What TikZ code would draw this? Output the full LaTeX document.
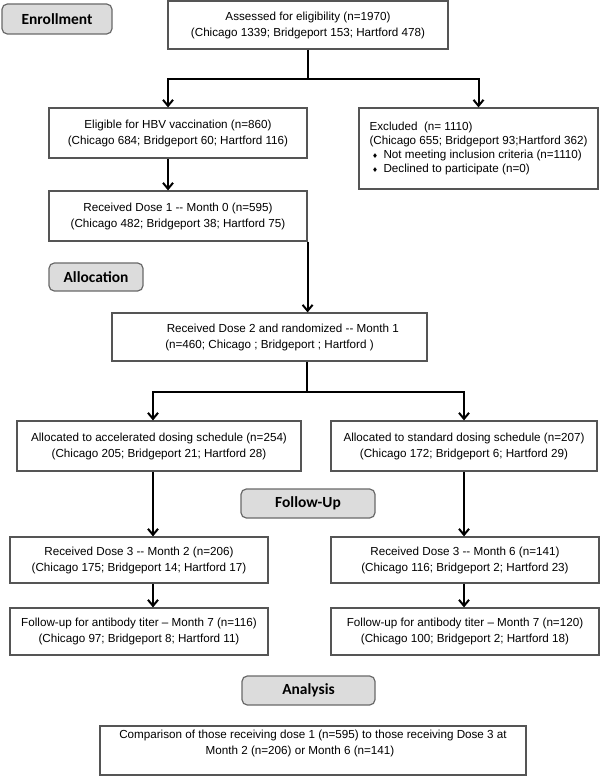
\documentclass[tikz,border=0pt]{standalone}
\usepackage{fontspec}
\setmainfont{Liberation Sans}[Ligatures=TeXOff]
\newfontfamily\stagefont{Carlito}
\newfontfamily\symfont{DejaVu Sans}
\usetikzlibrary{arrows.meta}
\definecolor{stagefill}{RGB}{220,220,220}
\definecolor{stageline}{RGB}{105,105,105}
\definecolor{boxline}{RGB}{85,85,85}
\newcommand{\dmd}{{\symfont\fontsize{5}{6}\selectfont\char"2666}}

\begin{document}
\begin{tikzpicture}[x=0.75pt,y=0.75pt,yscale=-1,xscale=1,
  box/.style={draw=boxline,line width=0.9pt,fill=white,align=center,inner sep=0pt,font=\fontsize{8.75}{12}\selectfont},
  stage/.style={draw=stageline,fill=stagefill,line width=0.9pt,rounded corners=4pt,inner sep=0pt,font=\stagefont\bfseries\fontsize{11.6}{14}\selectfont},
  line/.style={line width=1.5pt},
  arr/.style={line width=1.5pt,-{Straight Barb[length=4.5pt,width=7.5pt]}}]
\useasboundingbox (0,0) rectangle (600,781);

\node[stage,minimum width=82.5pt,minimum height=22.5pt] (enrol) at (57,19) {Enrollment};
\node[box,minimum width=210pt,minimum height=36pt] (assess) at (308,25) {Assessed for eligibility (n=1970)\\(Chicago 1339; Bridgeport 153; Hartford 478)};
\node[box,minimum width=193.5pt,minimum height=37.5pt] (elig) at (178,133) {Eligible for HBV vaccination (n=860)\\(Chicago 684; Bridgeport 60; Hartford 116)};
\node[box,align=left,minimum width=179.25pt,minimum height=60.75pt,font=\fontsize{8.75}{10.7}\selectfont] (excl) at (478.5,148.5) {Excluded~ (n= 1110)\\(Chicago 655; Bridgeport 93;Hartford 362)\\\hspace*{2pt}\dmd\hspace{4pt}Not meeting inclusion criteria (n=1110)\\\hspace*{2pt}\dmd\hspace{4pt}Declined to participate (n=0)};
\node[box,minimum width=193.5pt,minimum height=37.5pt] (dose1) at (178,216) {Received Dose 1 -- Month 0 (n=595)\\(Chicago 482; Bridgeport 38; Hartford 75)};
\node[stage,minimum width=70.5pt,minimum height=21pt] (alloc) at (96,277) {Allocation};
\node[box,minimum width=236.25pt,minimum height=36pt] (dose2) at (269.5,337) {\hspace*{20pt}Received Dose 2 and randomized -- Month 1\\(n=460; Chicago ; Bridgeport ; Hartford )};
\node[box,minimum width=213pt,minimum height=37.5pt] (accel) at (159,446) {Allocated to accelerated dosing schedule (n=254)\\(Chicago 205; Bridgeport 21; Hartford 28)};
\node[box,minimum width=199.5pt,minimum height=37.5pt] (std) at (464,446) {Allocated to standard dosing schedule (n=207)\\(Chicago 172; Bridgeport 6; Hartford 29)};
\node[stage,minimum width=100.5pt,minimum height=21.75pt] (fup) at (308,503.5) {Follow-Up};
\node[box,minimum width=193.5pt,minimum height=34.5pt] (dthreeL) at (139,560) {Received Dose 3 -- Month 2 (n=206)\\(Chicago 175; Bridgeport 14; Hartford 17)};
\node[box,minimum width=201pt,minimum height=34.5pt] (dthreeR) at (465,560) {Received Dose 3 -- Month 6 (n=141)\\(Chicago 116; Bridgeport 2; Hartford 23)};
\node[box,minimum width=193.5pt,minimum height=35.25pt] (titerL) at (139,631.5) {Follow-up for antibody titer – Month 7 (n=116)\\(Chicago 97; Bridgeport 8; Hartford 11)};
\node[box,minimum width=201pt,minimum height=35.25pt] (titerR) at (465,631.5) {Follow-up for antibody titer – Month 7 (n=120)\\(Chicago 100; Bridgeport 2; Hartford 18)};
\node[stage,minimum width=99.75pt,minimum height=21.75pt] (analysis) at (308.5,690.5) {Analysis};
\node[box,minimum width=319.5pt,minimum height=36.75pt] (compare) at (313,750.5) {Comparison of those receiving dose 1 (n=595) to those receiving Dose 3 at\\Month 2 (n=206) or Month 6 (n=141)\hspace*{19.5pt}\mbox{}\\\mbox{}};

\coordinate (colA) at (168,0);
\coordinate (colL) at (153,0);
\coordinate (colR) at (464,0);
\coordinate (splitA) at (308,79);
\coordinate (splitB) at (307,392);

\draw[line] (assess.south) -- (splitA);
\draw[arr] (splitA) -| (elig.north -| colA);
\draw[arr] (splitA) -| (excl.north);
\draw[arr] (elig.south -| colA) -- (dose1.north -| colA);
\draw[arr] (dose1.south east) -- (dose2.north -| dose1.south east);
\draw[line] (dose2.south -| splitB) -- (splitB);
\draw[arr] (splitB) -| (accel.north -| colL);
\draw[arr] (splitB) -| (std.north -| colR);
\draw[arr] (accel.south -| colL) -- (dthreeL.north -| colL);
\draw[arr] (std.south -| colR) -- (dthreeR.north -| colR);
\draw[arr] (dthreeL.south -| colL) -- (titerL.north -| colL);
\draw[arr] (dthreeR.south -| colR) -- (titerR.north -| colR);
\end{tikzpicture}
\end{document}
